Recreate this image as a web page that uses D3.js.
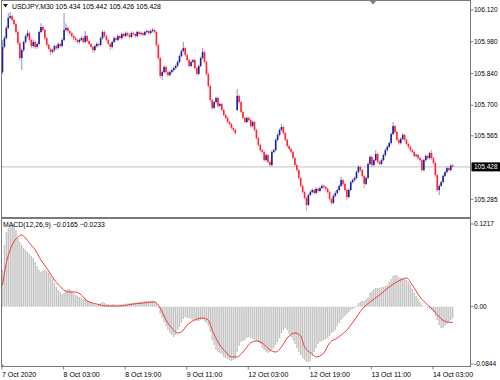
<!DOCTYPE html>
<html lang="en">
<head>
<meta charset="UTF-8">
<title>USDJPY M30 with MACD</title>
<script src="https://d3js.org/d3.v7.min.js"></script>
<style>
  body, html { margin: 0; padding: 0; background: #fff; overflow: hidden; }
  svg text { font-family: "Liberation Sans", Arial, sans-serif; fill: #000; }
</style>
</head>
<body>
<div id="chart"></div>
<script>
// USDJPY M30 candles, one entry per bar
const opens = [
  105.846,105.957,105.996,106.041,106.085,106.093,106.076,106.058,106.023,105.974,
  105.908,105.943,105.979,106.005,106.018,105.988,105.961,105.979,105.957,105.970,
  106.023,106.045,106.032,105.996,105.966,105.948,105.935,105.943,105.961,105.952,
  105.970,105.961,105.988,106.032,106.041,106.027,106.018,106.005,105.996,105.988,
  105.979,105.988,105.996,105.979,106.005,105.983,105.970,105.957,105.943,105.961,
  105.970,105.966,105.996,106.023,106.005,105.988,105.970,105.957,105.979,105.996,
  105.988,106.005,105.996,106.014,106.005,106.018,106.010,106.001,106.018,106.014,
  106.005,106.023,106.014,106.018,106.010,106.023,106.027,106.018,106.027,106.032,
  106.023,105.966,105.908,105.829,105.846,105.869,105.846,105.833,105.846,105.855,
  105.864,105.873,105.891,105.917,105.939,105.952,105.921,105.899,105.873,105.891,
  105.899,105.864,105.838,105.873,105.908,105.935,105.891,105.838,105.785,105.723,
  105.688,105.714,105.732,105.697,105.705,105.679,105.657,105.644,105.626,105.617,
  105.600,105.591,105.679,105.741,105.714,105.670,105.644,105.626,105.644,105.635,
  105.608,105.626,105.591,105.555,105.525,105.502,105.494,105.458,105.480,105.450,
  105.436,105.494,105.502,105.547,105.569,105.591,105.604,105.577,105.547,105.520,
  105.507,105.494,105.467,105.436,105.414,105.379,105.344,105.317,105.291,105.260,
  105.304,105.317,105.326,105.313,105.331,105.322,105.335,105.344,105.339,105.331,
  105.317,105.286,105.269,105.300,105.313,105.326,105.344,105.370,105.353,105.326,
  105.295,105.326,105.361,105.370,105.379,105.405,105.428,105.414,105.388,105.353,
  105.379,105.441,105.472,105.436,105.458,105.485,105.450,105.441,105.458,105.480,
  105.502,105.516,105.533,105.573,105.608,105.582,105.547,105.533,105.551,105.569,
  105.547,105.529,105.516,105.502,105.494,105.476,105.480,105.467,105.458,105.414,
  105.458,105.476,105.467,105.489,105.467,105.445,105.392,105.326,105.344,105.361,
  105.388,105.405,105.423,105.414,105.434
];
const highs = [
  105.988,106.005,106.050,106.107,106.111,106.100,106.084,106.064,106.030,105.980,
  105.950,105.986,106.012,106.032,106.024,105.995,105.990,105.985,105.978,106.030,
  106.062,106.052,106.038,106.002,105.972,105.954,105.950,105.968,105.968,105.977,
  105.976,105.995,106.107,106.060,106.048,106.034,106.024,106.012,106.003,105.994,
  105.995,106.004,106.002,106.027,106.011,105.990,105.977,105.963,105.968,105.978,
  105.976,106.003,106.032,106.030,106.012,105.994,105.976,105.986,106.004,106.002,
  106.012,106.011,106.021,106.020,106.025,106.024,106.016,106.025,106.024,106.020,
  106.030,106.029,106.025,106.024,106.030,106.034,106.033,106.034,106.041,106.038,
  106.029,105.972,105.914,105.853,105.876,105.875,105.852,105.853,105.862,105.871,
  105.880,105.898,105.924,105.946,105.979,105.958,105.927,105.905,105.898,105.906,
  105.905,105.870,105.880,105.915,105.952,105.941,105.897,105.844,105.791,105.729,
  105.721,105.739,105.738,105.712,105.711,105.685,105.663,105.650,105.632,105.623,
  105.606,105.597,105.772,105.747,105.720,105.676,105.650,105.651,105.650,105.641,
  105.633,105.632,105.597,105.561,105.531,105.508,105.500,105.487,105.486,105.456,
  105.501,105.509,105.554,105.576,105.598,105.617,105.610,105.583,105.553,105.526,
  105.513,105.500,105.473,105.442,105.420,105.385,105.350,105.323,105.297,105.311,
  105.324,105.333,105.332,105.338,105.337,105.342,105.351,105.350,105.345,105.337,
  105.323,105.292,105.307,105.320,105.333,105.351,105.383,105.376,105.359,105.332,
  105.333,105.368,105.377,105.386,105.412,105.435,105.434,105.420,105.394,105.386,
  105.448,105.479,105.478,105.465,105.502,105.491,105.456,105.465,105.487,105.509,
  105.523,105.540,105.580,105.626,105.614,105.588,105.553,105.558,105.576,105.575,
  105.553,105.535,105.522,105.508,105.500,105.487,105.486,105.473,105.464,105.465,
  105.483,105.482,105.496,105.502,105.473,105.451,105.398,105.351,105.368,105.395,
  105.412,105.430,105.429,105.440,105.442
];
const lows = [
  105.838,105.950,105.990,106.035,106.080,106.070,106.050,106.015,105.966,105.899,
  105.855,105.935,105.972,105.998,105.980,105.950,105.955,105.948,105.950,105.964,
  106.016,106.025,105.988,105.958,105.940,105.921,105.928,105.936,105.944,105.946,
  105.954,105.955,105.982,106.025,106.020,106.010,105.998,105.988,105.980,105.970,
  105.972,105.982,105.972,105.973,105.976,105.962,105.950,105.930,105.936,105.954,
  105.958,105.960,105.990,105.998,105.980,105.963,105.943,105.950,105.972,105.980,
  105.982,105.989,105.990,105.998,105.999,106.003,105.994,105.995,106.007,105.998,
  105.999,106.007,106.008,106.003,106.004,106.017,106.011,106.012,106.021,106.016,
  105.958,105.900,105.820,105.811,105.840,105.838,105.826,105.827,105.840,105.849,
  105.858,105.867,105.885,105.911,105.933,105.914,105.892,105.866,105.867,105.885,
  105.857,105.830,105.832,105.867,105.902,105.884,105.830,105.777,105.715,105.680,
  105.682,105.708,105.690,105.691,105.672,105.650,105.637,105.619,105.610,105.593,
  105.584,105.570,105.673,105.707,105.663,105.637,105.619,105.620,105.628,105.601,
  105.602,105.584,105.548,105.518,105.495,105.487,105.451,105.452,105.443,105.429,
  105.430,105.488,105.496,105.541,105.563,105.585,105.570,105.540,105.513,105.500,
  105.487,105.460,105.429,105.407,105.372,105.337,105.310,105.284,105.233,105.254,
  105.298,105.311,105.306,105.307,105.315,105.316,105.329,105.332,105.324,105.310,
  105.279,105.260,105.263,105.294,105.307,105.320,105.338,105.346,105.319,105.282,
  105.289,105.320,105.355,105.364,105.373,105.399,105.407,105.381,105.335,105.347,
  105.373,105.435,105.429,105.430,105.452,105.443,105.434,105.435,105.452,105.474,
  105.496,105.510,105.527,105.567,105.575,105.540,105.526,105.527,105.545,105.540,
  105.522,105.509,105.495,105.487,105.469,105.470,105.460,105.451,105.407,105.408,
  105.452,105.460,105.461,105.460,105.438,105.385,105.319,105.304,105.338,105.355,
  105.382,105.399,105.407,105.408,105.426
];
const closes = [
  105.957,105.996,106.041,106.085,106.093,106.076,106.058,106.023,105.974,105.908,
  105.943,105.979,106.005,106.018,105.988,105.961,105.979,105.957,105.970,106.023,
  106.045,106.032,105.996,105.966,105.948,105.935,105.943,105.961,105.952,105.970,
  105.961,105.988,106.032,106.041,106.027,106.018,106.005,105.996,105.988,105.979,
  105.988,105.996,105.979,106.005,105.983,105.970,105.957,105.943,105.961,105.970,
  105.966,105.996,106.023,106.005,105.988,105.970,105.957,105.979,105.996,105.988,
  106.005,105.996,106.014,106.005,106.018,106.010,106.001,106.018,106.014,106.005,
  106.023,106.014,106.018,106.010,106.023,106.027,106.018,106.027,106.032,106.023,
  105.966,105.908,105.829,105.846,105.869,105.846,105.833,105.846,105.855,105.864,
  105.873,105.891,105.917,105.939,105.952,105.921,105.899,105.873,105.891,105.899,
  105.864,105.838,105.873,105.908,105.935,105.891,105.838,105.785,105.723,105.688,
  105.714,105.732,105.697,105.705,105.679,105.657,105.644,105.626,105.617,105.600,
  105.591,105.577,105.741,105.714,105.670,105.644,105.626,105.644,105.635,105.608,
  105.626,105.591,105.555,105.525,105.502,105.494,105.458,105.480,105.450,105.436,
  105.494,105.502,105.547,105.569,105.591,105.604,105.577,105.547,105.520,105.507,
  105.494,105.467,105.436,105.414,105.379,105.344,105.317,105.291,105.260,105.304,
  105.317,105.326,105.313,105.331,105.322,105.335,105.344,105.339,105.331,105.317,
  105.286,105.269,105.300,105.313,105.326,105.344,105.370,105.353,105.326,105.295,
  105.326,105.361,105.370,105.379,105.405,105.428,105.414,105.388,105.353,105.379,
  105.441,105.472,105.436,105.458,105.485,105.450,105.441,105.458,105.480,105.502,
  105.516,105.533,105.573,105.608,105.582,105.547,105.533,105.551,105.569,105.547,
  105.529,105.516,105.502,105.494,105.476,105.480,105.467,105.458,105.414,105.458,
  105.476,105.467,105.489,105.467,105.445,105.392,105.326,105.344,105.361,105.388,
  105.405,105.423,105.414,105.434,105.428
];

// MACD(12,26,9) main values, one per bar (drawn as histogram)
const macdMain = [
  0.0540,0.0908,0.1100,0.1159,0.1188,0.1203,0.1217,0.1129,0.1012,0.0952,
  0.0908,0.0864,0.0835,0.0805,0.0776,0.0746,0.0717,0.0658,0.0599,0.0540,
  0.0511,0.0526,0.0540,0.0526,0.0496,0.0452,0.0408,0.0349,0.0290,0.0246,
  0.0216,0.0187,0.0202,0.0246,0.0261,0.0261,0.0231,0.0202,0.0172,0.0158,
  0.0143,0.0128,0.0113,0.0128,0.0099,0.0084,0.0054,0.0039,0.0039,0.0025,
  0.0039,0.0054,0.0069,0.0054,0.0039,0.0039,0.0025,0.0039,0.0034,0.0030,
  0.0032,0.0036,0.0040,0.0038,0.0042,0.0046,0.0050,0.0054,0.0058,0.0062,
  0.0066,0.0070,0.0074,0.0076,0.0080,0.0084,0.0086,0.0088,0.0089,0.0082,
  0.0054,-0.0019,-0.0107,-0.0166,-0.0225,-0.0284,-0.0343,-0.0387,-0.0417,-0.0446,
  -0.0417,-0.0343,-0.0299,-0.0240,-0.0181,-0.0152,-0.0166,-0.0166,-0.0181,-0.0196,
  -0.0196,-0.0210,-0.0210,-0.0196,-0.0181,-0.0210,-0.0240,-0.0284,-0.0372,-0.0490,
  -0.0564,-0.0637,-0.0667,-0.0682,-0.0696,-0.0740,-0.0755,-0.0770,-0.0785,-0.0799,
  -0.0785,-0.0770,-0.0667,-0.0578,-0.0520,-0.0505,-0.0490,-0.0461,-0.0446,-0.0461,
  -0.0475,-0.0490,-0.0505,-0.0520,-0.0549,-0.0608,-0.0637,-0.0667,-0.0682,-0.0667,
  -0.0637,-0.0608,-0.0564,-0.0520,-0.0461,-0.0387,-0.0343,-0.0314,-0.0343,-0.0402,
  -0.0446,-0.0490,-0.0549,-0.0608,-0.0667,-0.0711,-0.0755,-0.0785,-0.0814,-0.0814,
  -0.0799,-0.0726,-0.0667,-0.0608,-0.0549,-0.0520,-0.0505,-0.0490,-0.0475,-0.0461,
  -0.0431,-0.0387,-0.0372,-0.0343,-0.0284,-0.0240,-0.0196,-0.0166,-0.0137,-0.0107,
  -0.0078,-0.0049,-0.0034,-0.0019,0.0010,0.0054,0.0069,0.0084,0.0084,0.0113,
  0.0143,0.0202,0.0231,0.0261,0.0275,0.0275,0.0275,0.0290,0.0290,0.0305,
  0.0319,0.0364,0.0408,0.0452,0.0467,0.0467,0.0437,0.0422,0.0422,0.0408,
  0.0393,0.0364,0.0319,0.0261,0.0202,0.0158,0.0113,0.0069,0.0025,-0.0004,
  -0.0004,-0.0019,-0.0034,-0.0049,-0.0078,-0.0137,-0.0196,-0.0269,-0.0314,-0.0314,
  -0.0284,-0.0255,-0.0225,-0.0196,-0.0165
];

// MACD signal line, read at these bar indexes
const signalBars = [
  0,2,5,8,10,12,14,17,20,24,27,31,34,38,41,44,49,54,61,68,73,79,82,85,88,91,93,96,
  100,104,107,109,112,116,119,122,125,129,132,135,139,142,145,148,152,155,157,161,
  163,167,170,174,179,183,187,191,196,201,207,210,213,217,221,224,227,231,234
];
const signalValues = [
  0.0319,0.0643,0.0908,0.1026,0.1055,0.1011,0.0938,0.0835,0.0687,0.0526,0.0393,0.0268,
  0.0216,0.0216,0.0172,0.0084,0.0039,0.0010,0.0010,0.0039,0.0054,0.0069,-0.0019,-0.0196,
  -0.0314,-0.0387,-0.0372,-0.0269,-0.0196,-0.0166,-0.0196,-0.0343,-0.0520,-0.0667,-0.0740,
  -0.0740,-0.0667,-0.0534,-0.0505,-0.0534,-0.0637,-0.0667,-0.0593,-0.0461,-0.0387,-0.0431,
  -0.0593,-0.0696,-0.0740,-0.0682,-0.0534,-0.0461,-0.0343,-0.0196,-0.0034,0.0069,0.0172,
  0.0290,0.0393,0.0422,0.0319,0.0143,0.0025,-0.0049,-0.0152,-0.0225,-0.0233
];

const priceTicks = [106.120, 105.980, 105.840, 105.700, 105.565, 105.285];
const macdTicks = [0.1217, 0, -0.0844];
const macdTickLabels = ["0.1217", "0.00", "-0.0844"];
const timeLabels = ["7 Oct 2020", "8 Oct 03:00", "8 Oct 19:00", "9 Oct 11:00",
                    "12 Oct 03:00", "12 Oct 19:00", "13 Oct 11:00", "14 Oct 03:00"];
const timeLabelBars = [0, 32, 64, 96, 128, 160, 192, 224];

const W = 500, H = 380;
const left = 1.5, right = 470.5;
const mainTop = 0.5, mainBottom = 217.5;
const subTop = 218.5, subBottom = 366.5;

const bullBody = "#1e1e9c", bearBody = "#ff2535";
const bullWick = "#9a9ad8", bearWick = "#ff9aa2";

const svg = d3.select("#chart").append("svg")
    .attr("width", W)
    .attr("height", H);

svg.append("rect").attr("width", W).attr("height", H).attr("fill", "#fff");

const x = d3.scaleLinear().domain([0, closes.length - 1]).range([2.5, 452.7]);
const y = d3.scaleLinear().domain([105.285, 106.120]).range([199.3, 10]);
const ym = d3.scaleLinear().domain([-0.0844, 0.1217]).range([364, 224]);

const defs = svg.append("defs");
defs.append("clipPath").attr("id", "clipMain").append("rect")
    .attr("x", left).attr("y", mainTop).attr("width", right - left).attr("height", mainBottom - mainTop);
defs.append("clipPath").attr("id", "clipSub").append("rect")
    .attr("x", left).attr("y", subTop).attr("width", right - left).attr("height", subBottom - subTop);

// ---- main price window ----
const main = svg.append("g").attr("clip-path", "url(#clipMain)");
const lastClose = closes[closes.length - 1];

// current bid line
main.append("line")
    .attr("x1", left).attr("x2", right)
    .attr("y1", y(lastClose)).attr("y2", y(lastClose))
    .attr("stroke", "#c6ced6").attr("stroke-width", 1.2);

const bars = d3.range(closes.length);
main.selectAll(".wick").data(bars).enter().append("line")
    .attr("class", "wick")
    .attr("x1", i => x(i)).attr("x2", i => x(i))
    .attr("y1", i => y(highs[i])).attr("y2", i => y(lows[i]))
    .attr("stroke", i => closes[i] >= opens[i] ? bullWick : bearWick)
    .attr("stroke-width", 1.1);

main.selectAll(".body").data(bars).enter().append("rect")
    .attr("class", "body")
    .attr("x", i => x(i) - 0.8)
    .attr("width", 1.6)
    .attr("y", i => y(Math.max(opens[i], closes[i])))
    .attr("height", i => Math.max(1, Math.abs(y(opens[i]) - y(closes[i]))))
    .attr("fill", i => closes[i] >= opens[i] ? bullBody : bearBody);

// title
svg.append("path")
    .attr("d", "M3,4 L8,4 L5.5,7.5 Z")
    .attr("fill", "#222");
const fmt3 = d3.format(".3f");
const n = closes.length - 1;
svg.append("text")
    .attr("x", 12).attr("y", 8.5)
    .style("font-size", "6.9px")
    .text(`USDJPY,M30  ${fmt3(opens[n])} ${fmt3(highs[n])} ${fmt3(lows[n])} ${fmt3(closes[n])}`);

// chart shift marker
svg.append("path")
    .attr("d", "M370,1 L376,1 L373,4.5 Z")
    .attr("fill", "#6f7f90");

// price axis
priceTicks.forEach(p => {
    svg.append("line")
        .attr("x1", right).attr("x2", right + 3)
        .attr("y1", y(p)).attr("y2", y(p))
        .attr("stroke", "#808080");
    svg.append("text")
        .attr("x", 474).attr("y", y(p))
        .attr("dy", "0.35em")
        .style("font-size", "6.5px")
        .text(fmt3(p));
});

// current price label
svg.append("rect")
    .attr("x", right + 1).attr("y", y(lastClose) - 4.5)
    .attr("width", W - right - 1).attr("height", 9)
    .attr("fill", "#000");
svg.append("text")
    .attr("x", (right + W) / 2 + 0.5).attr("y", y(lastClose))
    .attr("dy", "0.35em")
    .attr("text-anchor", "middle")
    .style("font-size", "6.5px")
    .style("fill", "#fff")
    .text(fmt3(lastClose));

// ---- MACD window ----
const sub = svg.append("g").attr("clip-path", "url(#clipSub)");

sub.selectAll(".hist").data(bars).enter().append("line")
    .attr("class", "hist")
    .attr("x1", i => x(i)).attr("x2", i => x(i))
    .attr("y1", ym(0)).attr("y2", i => ym(macdMain[i]))
    .attr("stroke", "#c3c3c3")
    .attr("stroke-width", 1.4);

const signalLine = d3.line()
    .x((d, k) => x(signalBars[k]))
    .y(d => ym(d))
    .curve(d3.curveMonotoneX);

sub.append("path")
    .datum(signalValues)
    .attr("fill", "none")
    .attr("stroke", "#f03a3a")
    .attr("stroke-width", 1)
    .attr("d", signalLine);

const fmt4 = d3.format(".4f");
svg.append("text")
    .attr("x", 3).attr("y", 226.5)
    .style("font-size", "6.9px")
    .text(`MACD(12,26,9) ${fmt4(macdMain[n])} ${fmt4(signalValues[signalValues.length - 1])}`);

macdTicks.forEach((v, k) => {
    svg.append("line")
        .attr("x1", right).attr("x2", right + 3)
        .attr("y1", ym(v)).attr("y2", ym(v))
        .attr("stroke", "#808080");
    svg.append("text")
        .attr("x", 474).attr("y", ym(v))
        .attr("dy", "0.35em")
        .style("font-size", "6.5px")
        .text(macdTickLabels[k]);
});

svg.append("path")
    .attr("d", "M1.5,363.5 L4.5,366.5 L1.5,366.5 Z")
    .attr("fill", "#6f7f90");

// time axis
timeLabelBars.forEach((b, k) => {
    svg.append("line")
        .attr("x1", x(b) - 0.5).attr("x2", x(b) - 0.5)
        .attr("y1", subBottom).attr("y2", subBottom + 3)
        .attr("stroke", "#808080");
    svg.append("text")
        .attr("x", x(b) - 0.5).attr("y", 376.5)
        .style("font-size", "7px")
        .text(timeLabels[k]);
});

// window frames
[[mainTop, mainBottom], [subTop, subBottom]].forEach(([t, b]) => {
    svg.append("rect")
        .attr("x", left).attr("y", t)
        .attr("width", right - left).attr("height", b - t)
        .attr("fill", "none")
        .attr("stroke", "#7a7a7a")
        .attr("stroke-width", 1);
});
</script>
</body>
</html>
